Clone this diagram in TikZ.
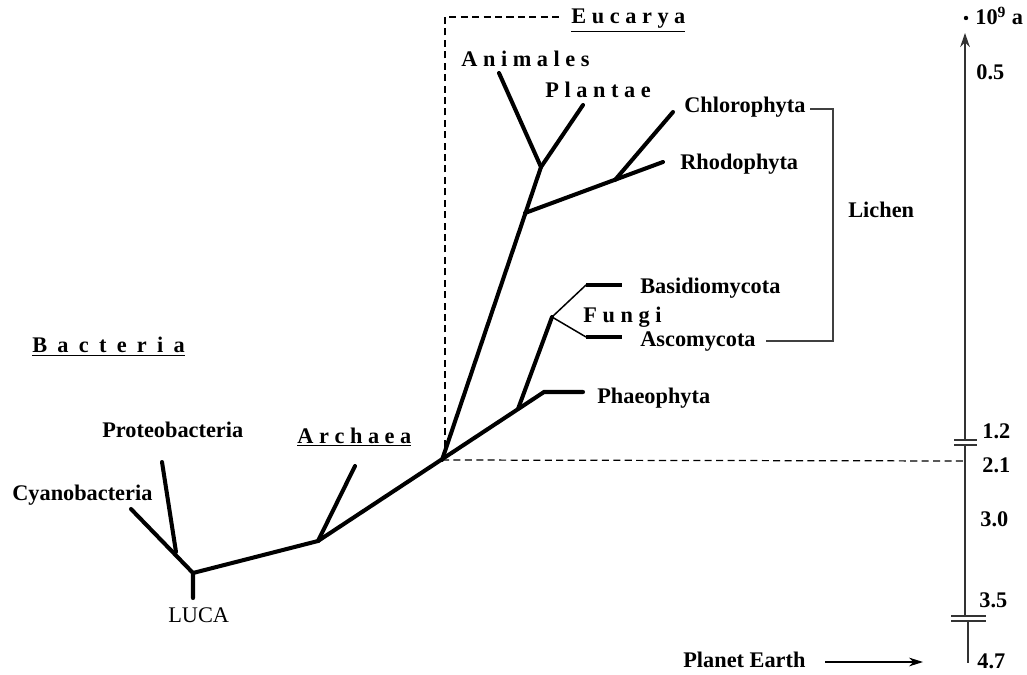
\documentclass[tikz,border=0pt]{standalone}
\usepackage{fontspec}
\setmainfont{Liberation Serif}
\usepackage{tikz}
\usetikzlibrary{arrows.meta}

\begin{document}
\begin{tikzpicture}[x=0.02cm, y=-0.02cm,
    branch/.style={line width=2.3pt, line cap=round},
    twig/.style={line width=0.85pt},
    lbl/.style={anchor=base west, inner sep=0pt, font=\fontsize{12.7}{15}\selectfont\bfseries},
    axis/.style={line width=0.8pt, black!80},
    boxline/.style={dash pattern=on 4pt off 2.5pt, line width=0.7pt}]
    \useasboundingbox (0,0) rectangle (1027,675);

    % Tree junctions and tips
    \coordinate (luca) at (193,573);
    \coordinate (lucastem) at (193,598);
    \coordinate (cyanotip) at (131,509);
    \coordinate (protojoin) at (176,552);
    \coordinate (prototip) at (162,462);
    \coordinate (arch) at (318,541);
    \coordinate (archtip) at (355,466);
    \coordinate (root) at (442,460);
    \coordinate (phaeo) at (544,392);
    \coordinate (phaeotip) at (583,392);
    \coordinate (fbase) at (518,409);
    \coordinate (fnode) at (552,317);
    \coordinate (basi) at (586,285);
    \coordinate (basitip) at (622,285);
    \coordinate (asco) at (586,337);
    \coordinate (ascotip) at (622,337);
    \coordinate (eu) at (525,213);
    \coordinate (ap) at (541,167);
    \coordinate (animtip) at (499,73);
    \coordinate (planttip) at (583,105);
    \coordinate (chl) at (615,180);
    \coordinate (chltip) at (673,112);
    \coordinate (rhodotip) at (663,162);

    % Eucarya box (dashed)
    \draw[boxline] (root) -- (965,461);
    \draw[boxline] (445,458) -- (445,17) -- (560,17);

    % Bacteria
    \draw[branch] (lucastem) -- (luca) -- (cyanotip);
    \draw[branch] (protojoin) -- (prototip);

    % Archaea
    \draw[branch] (luca) -- (arch) -- (archtip);
    \draw[branch] (arch) -- (phaeo) -- (phaeotip);

    % Eucarya
    \draw[branch] (root) -- (ap);
    \draw[branch] (ap) -- (animtip);
    \draw[branch] (ap) -- (planttip);
    \draw[branch] (eu) -- (rhodotip);
    \draw[branch] (chl) -- (chltip);
    \draw[branch] (fbase) -- (fnode);
    \draw[twig] (fnode) -- (basi);
    \draw[twig] (fnode) -- (asco);
    \draw[branch, line cap=butt] (basi) -- (basitip);
    \draw[branch, line cap=butt] (asco) -- (ascotip);

    % Labels
    \node[lbl] (eucarya) at (571,24) {\underline{E u c a r y a}};
    \node[lbl] (animales) at (461,67) {A n i m a l e s};
    \node[lbl] (plantae) at (545,98) {P l a n t a e};
    \node[lbl] (chloro) at (684,113) {Chlorophyta};
    \node[lbl] (rhodo) at (680,170) {Rhodophyta};
    \node[lbl] (lichen) at (848,218) {Lichen};
    \node[lbl] (basidio) at (640,294) {Basidiomycota};
    \node[lbl] (fungi) at (583,322) {F u n g i};
    \node[lbl] (ascomy) at (640,346) {Ascomycota};
    \node[lbl] (phaeoph) at (597,403) {Phaeophyta};
    \node[lbl] (bacteria) at (32,353) {\underline{\spaceskip=0.46em\relax B a c t e r i a}};
    \node[lbl] (proteo) at (102,437) {Proteobacteria};
    \node[lbl] (cyano) at (12,500) {Cyanobacteria};
    \node[lbl] (archaea) at (297,443) {\underline{A r c h a e a}};
    \node[lbl, font=\fontsize{12.7}{15}\selectfont] (lucalbl) at (168,622) {LUCA};
    \node[lbl] (earth) at (683,667) {Planet Earth};

    % Lichen bracket
    \draw[line width=0.7pt, black!75] (810,109) -- (833,109) -- (833,341) -- (766,341);

    % Time axis
    \draw[axis, -{Stealth[length=8pt, width=5.5pt]}] (965,440) -- (965,33);
    \draw[axis] (954,440) -- (977,440);
    \draw[axis] (954,445) -- (977,445);
    \draw[axis] (965,445) -- (965,616);
    \draw[axis] (951,616) -- (986,616);
    \draw[axis] (951,621) -- (986,621);
    \draw[axis] (968,621) -- (968,663);
    \coordinate (earthstart) at (825,662);
    \coordinate (earthend) at (923,662);
    \draw[line width=0.6pt, -{Stealth[length=8pt, width=5pt]}] (earthstart) -- (earthend);

    \fill (966,18) circle (2.2);
    \node[lbl] (unit) at (975,25) {10\textsuperscript{9} a};
    \node[lbl] (t05) at (976,80) {0.5};
    \node[lbl] (t12) at (982,438) {1.2};
    \node[lbl] (t21) at (982,472) {2.1};
    \node[lbl] (t30) at (980,526) {3.0};
    \node[lbl] (t35) at (979,607) {3.5};
    \node[lbl] (t47) at (977,668) {4.7};
\end{tikzpicture}
\end{document}
